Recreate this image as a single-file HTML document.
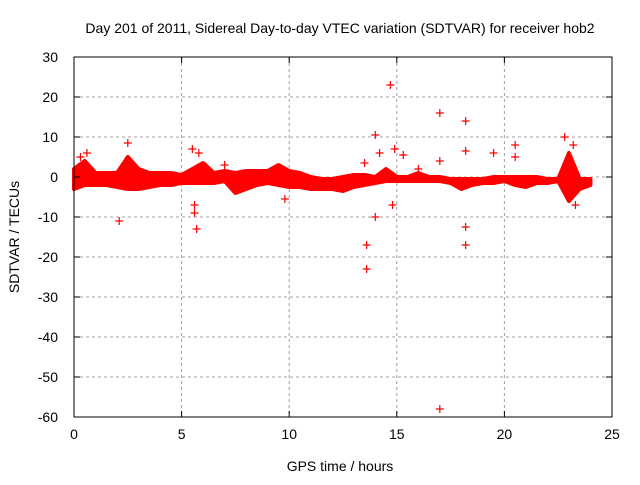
<!DOCTYPE html>
<html><head><meta charset="utf-8"><style>
body{margin:0;background:#fff}
svg text{font-family:"Liberation Sans",sans-serif;font-size:14px;fill:#000}
</style></head><body>
<svg id="chart" width="640" height="480" xmlns="http://www.w3.org/2000/svg">
<text x="340" y="33" text-anchor="middle">Day 201 of 2011, Sidereal Day-to-day VTEC variation (SDTVAR) for receiver hob2</text>
<text x="340" y="471" text-anchor="middle">GPS time / hours</text>
<text transform="translate(19,237) rotate(-90)" text-anchor="middle">SDTVAR / TECUs</text>
<g id="grid"></g><g id="marks"></g><g id="axes"></g>
</svg>
<script>
const xTicks=[0,5,10,15,20,25];
const yTicks=[30,20,10,0,-10,-20,-30,-40,-50,-60];
const bandHours=[0,0.5,1,1.5,2,2.5,3,3.5,4,4.5,5,5.5,6,6.5,7,7.5,8,8.5,9,9.5,10,10.5,11,11.5,12,12.5,13,13.5,14,14.5,15,15.5,16,16.5,17,17.5,18,18.5,19,19.5,20,20.5,21,21.5,22,22.5,23,23.5,24];
const bandUpper=[2,4,1,1,1,5,2,1,1,1,0.5,2,3.5,1,1.5,1,1.5,1.5,1.5,3,1.5,1,0,-0.5,-0.5,0,0.5,0.5,0,2,0,0,1,0,0,-0.5,-0.5,-0.5,-0.5,0,0,0,0,0,-0.5,-0.5,6,-0.5,-0.5];
const bandLower=[-3,-2,-2,-2,-2.5,-3,-3,-2.5,-2,-2,-1.5,-1.5,-1.5,-1.5,-1,-4,-3,-2,-1.5,-2,-2.5,-2.5,-3,-3,-3,-3.5,-2.5,-2,-1.5,-1,-1,-1,-1,-1,-1,-1.5,-3,-2,-1.5,-1.5,-1,-2,-2.5,-1.5,-1.5,-1,-6,-3,-2];
const outlierHours=[0.3,0.6,2.1,2.5,5.5,5.6,5.6,5.7,5.8,7,9.8,13.6,13.6,14,14,14.2,14.7,14.8,15.3,17,17,17,18.2,18.2,18.2,18.2,19.5,20.5,20.5,22.8,23.2,23.3,11.5,16,13.5,14.9,23];
const outlierValues=[5,6,-11,8.5,7,-7,-9,-13,6,3,-5.5,-17,-23,10.5,-10,6,23,-7,5.5,16,-58,4,14,6.5,-12.5,-17,6,8,5,10,8,-7,-2,2,3.5,7,4];
const L=74,R=612,T=57,B=417;
const xs=h=>L+(h-0)/25*(R-L);
const ys=v=>T+(30-v)/90*(B-T);
const NS="http://www.w3.org/2000/svg";
function mk(tag,attrs,parent){const e=document.createElementNS(NS,tag);for(const k in attrs)e.setAttribute(k,attrs[k]);parent.appendChild(e);return e;}
const grid=document.getElementById('grid'),marks=document.getElementById('marks'),axes=document.getElementById('axes');
xTicks.forEach(t=>{
  if(t>0&&t<25){const g=mk('line',{x1:xs(t),x2:xs(t),y1:T,y2:B,stroke:'#a0a0a0','stroke-dasharray':'3,3'},grid);
  
  }
  const tk=mk('line',{x1:xs(t),x2:xs(t),y1:B,y2:B-6,stroke:'#000'},axes);
  
  
  const tk2=mk('line',{x1:xs(t),x2:xs(t),y1:T,y2:T+6,stroke:'#000'},axes);
  
  
  const lb=mk('text',{x:xs(t),y:B+22,'text-anchor':'middle'},axes);lb.textContent=t;
  
  
});
yTicks.forEach(t=>{
  if(t<30&&t>-60){const g=mk('line',{x1:L,x2:R,y1:ys(t),y2:ys(t),stroke:'#a0a0a0','stroke-dasharray':'3,3'},grid);
  
  }
  const tk=mk('line',{x1:L,x2:L+6,y1:ys(t),y2:ys(t),stroke:'#000'},axes);
  
  
  const tk2=mk('line',{x1:R,x2:R-6,y1:ys(t),y2:ys(t),stroke:'#000'},axes);
  
  
  const lb=mk('text',{x:L-16,y:ys(t)+5,'text-anchor':'end'},axes);lb.textContent=t;
  
  
});
const fr=mk('rect',{x:L,y:T,width:R-L,height:B-T,fill:'none',stroke:'#000'},axes);


let pts=bandHours.map((h,i)=>xs(h)+','+ys(bandUpper[i]));
for(let i=bandHours.length-1;i>=0;i--)pts.push(xs(bandHours[i])+','+ys(bandLower[i]));
const band=mk('polygon',{points:pts.join(' '),fill:'#ff0000',stroke:'#ff0000','stroke-width':4,'stroke-linejoin':'round'},marks);


outlierHours.forEach((h,i)=>{
  const x=xs(h),y=ys(outlierValues[i]);
  const p=mk('path',{d:`M${x-4},${y}H${x+4}M${x},${y-4}V${y+4}`,stroke:'#ff0000','stroke-width':1.2},marks);
  
  
});
</script>
</body></html>
